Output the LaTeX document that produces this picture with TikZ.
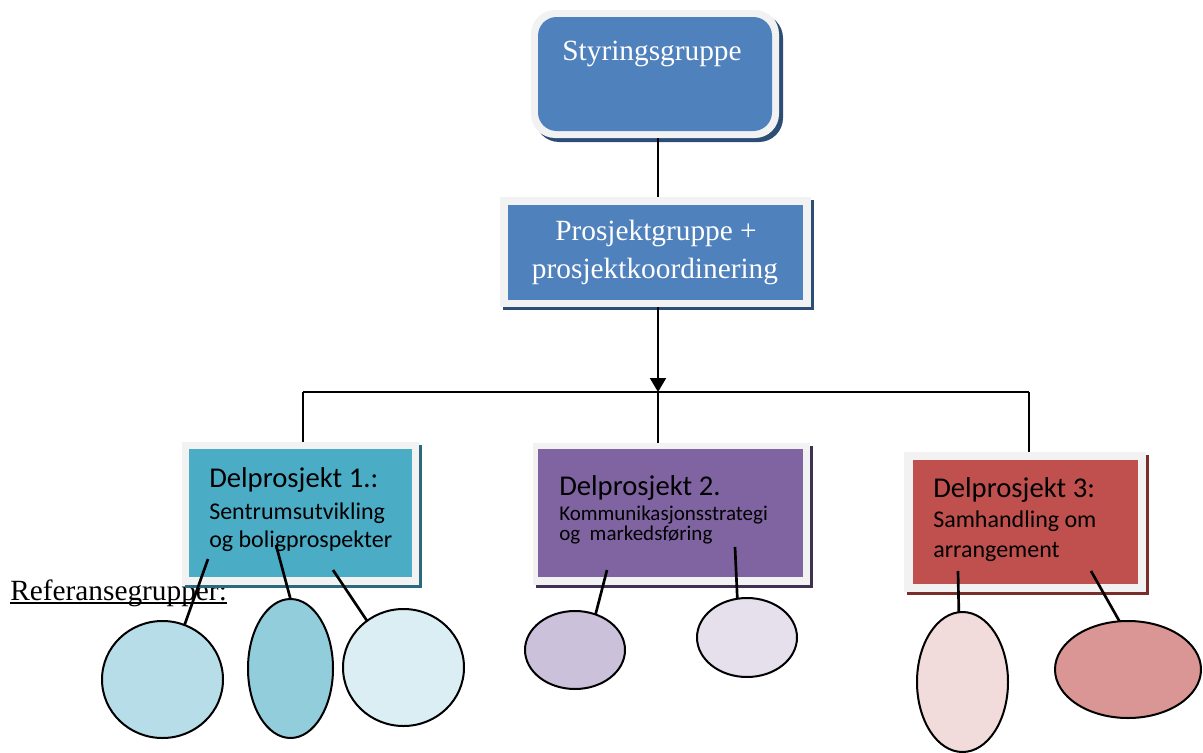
\documentclass[tikz,border=0pt]{standalone}
\usepackage{fontspec}
\setmainfont{Liberation Serif}
\newfontfamily\calib{Carlito}
\usetikzlibrary{shapes.geometric,shadows,arrows.meta}
\definecolor{blueM}{HTML}{4F81BD}
\definecolor{blueD}{HTML}{2C4D75}
\definecolor{tealM}{HTML}{4BACC6}
\definecolor{tealD}{HTML}{2B6A7C}
\definecolor{purM}{HTML}{8064A2}
\definecolor{purD}{HTML}{3F3151}
\definecolor{redM}{HTML}{C0504D}
\definecolor{redD}{HTML}{7A2E2C}
\definecolor{frameG}{HTML}{F2F2F2}
\definecolor{ovA}{HTML}{B7DDE8}
\definecolor{ovB}{HTML}{92CDDC}
\definecolor{ovC}{HTML}{DAEEF3}
\definecolor{ovD}{HTML}{CCC1DA}
\definecolor{ovE}{HTML}{E5E0EC}
\definecolor{ovF}{HTML}{F2DCDB}
\definecolor{ovG}{HTML}{D99694}
\begin{document}
\begin{tikzpicture}[x=0.75pt,y=-0.75pt,
  framebox/.style={draw=none, fill=frameG, inner sep=0pt, outer sep=0pt},
  innerbox/.style={draw=none, inner sep=0pt, outer sep=0pt},
  shad/.style={drop shadow={shadow xshift=#1, shadow yshift=-#1, fill=shc, opacity=1}},
  conn/.style={line width=1.5pt, black},
  refline/.style={line width=2pt, black},
  oval/.style={ellipse, draw=black, line width=1.5pt, inner sep=0pt, outer sep=0pt},
  serifw/.style={anchor=base, inner sep=0pt, text=white, font=\fontsize{22}{26}\selectfont},
  hdr/.style={anchor=base west, inner sep=0pt, font=\calib\fontsize{21.5}{26}\selectfont},
  sub/.style={anchor=base west, inner sep=0pt, font=\calib\fontsize{18}{22}\selectfont},
  subs/.style={anchor=base west, inner sep=0pt, font=\calib\fontsize{15.75}{19}\selectfont}]
\useasboundingbox (0,0) rectangle (1203,753);

% reference label (behind box 1)
\node[anchor=base west, inner sep=0pt, font=\fontsize{22}{26}\selectfont] (ref) at (10,600) {Referansegrupper:};
\draw[line width=1.1pt] ([yshift=-2.4pt]ref.base west) -- ([yshift=-2.4pt]ref.base east);

% Styringsgruppe
\colorlet{shc}{blueD}
\node[framebox, rounded corners=18pt, minimum width=186pt, minimum height=96pt, shad=3pt] (styF) at (655,74) {};
\node[innerbox, fill=blueM, rounded corners=14pt, minimum width=175.5pt, minimum height=85.5pt] (sty) at (655,74) {};
\node[serifw] (styT) at (652,60) {Styringsgruppe};

% Prosjektgruppe
\node[framebox, minimum width=233.25pt, minimum height=82.5pt, shad=2.25pt] (proF) at (655.5,252) {};
\node[innerbox, fill=blueM, minimum width=221.25pt, minimum height=71.25pt] (pro) at (655.5,252.5) {};
\node[serifw] (proT1) at (656,240) {Prosjektgruppe +};
\node[serifw] (proT2) at (655,278) {prosjektkoordinering};

% Delprosjekt 1
\colorlet{shc}{tealD}
\node[framebox, minimum width=177.75pt, minimum height=107.25pt, shad=2.5pt] (d1F) at (300.5,513.5) {};
\node[innerbox, fill=tealM, minimum width=167.25pt, minimum height=96pt] (d1) at (300.5,513) {};
\node[hdr] (d1T1) at (209,487) {Delprosjekt 1.:};
\node[sub] (d1T2) at (209,519) {Sentrumsutvikling};
\node[sub] (d1T3) at (209,547) {og boligprospekter};

% Delprosjekt 2
\colorlet{shc}{purD}
\node[framebox, minimum width=207.75pt, minimum height=106.5pt, shad=2.25pt] (d2F) at (671.5,514) {};
\node[innerbox, fill=purM, minimum width=198.75pt, minimum height=96pt] (d2) at (670.5,513) {};
\node[hdr] (d2T1) at (559,495) {Delprosjekt 2.};
\node[subs] (d2T2) at (559,520) {Kommunikasjonsstrategi};
\node[subs] (d2T3) at (559,540) {og~~markedsføring};

% Delprosjekt 3
\colorlet{shc}{redD}
\node[framebox, minimum width=181.5pt, minimum height=105pt, shad=2.5pt] (d3F) at (1025,522) {};
\node[innerbox, fill=redM, minimum width=168.75pt, minimum height=93pt] (d3) at (1025.5,522) {};
\node[hdr] (d3T1) at (933,497) {Delprosjekt 3:};
\node[sub] (d3T2) at (933,527) {Samhandling om};
\node[sub] (d3T3) at (933,557) {arrangement};

% hierarchy connectors
\coordinate (jc) at (658,392);
\coordinate (jl) at (303,392);
\coordinate (jr) at (1029,392);
\draw[conn] (styF.south -| jc) -- (proF.north -| jc);
\draw[conn, -{Triangle[width=12pt,length=10.5pt]}] (proF.south -| jc) -- (jc);
\draw[conn] (jl) -- (jr);
\draw[conn] (jl) -- (jl |- d1F.north);
\draw[conn] (jc) -- (jc |- d2F.north);
\draw[conn] (jr) -- (jr |- d3F.north);

% reference group ovals
\node[oval, fill=ovA, minimum width=90.75pt, minimum height=87.75pt] (eA) at (162.5,679.5) {};
\node[oval, fill=ovB, minimum width=63.75pt, minimum height=104.25pt] (eB) at (290.5,668.5) {};
\node[oval, fill=ovC, minimum width=90.75pt, minimum height=87.75pt] (eC) at (403.5,667.5) {};
\node[oval, fill=ovD, minimum width=75pt, minimum height=58.5pt] (eD) at (575,650) {};
\node[oval, fill=ovE, minimum width=75pt, minimum height=59.25pt] (eE) at (747,637.5) {};
\node[oval, fill=ovF, minimum width=68.25pt, minimum height=105pt] (eF) at (962.5,682) {};
\node[oval, fill=ovG, minimum width=109.5pt, minimum height=72.75pt] (eG) at (1128,669.5) {};

% free ends inside the boxes
\coordinate (a1) at (208,559);
\coordinate (a2) at (276,545);
\coordinate (a3) at (333,570);
\coordinate (b1) at (607,570);
\coordinate (b2) at (735,547);
\coordinate (c1) at (958,571);
\coordinate (c2) at (1091,571);
\draw[refline] (a1) -- (eA.68);
\draw[refline] (a2) -- (eB.north);
\draw[refline] (a3) -- (eC.128);
\draw[refline] (b1) -- (eD.60);
\draw[refline] (b2) -- (eE.104);
\draw[refline] (c1) -- (eF.93);
\draw[refline] (c2) -- (eG.100);
\end{tikzpicture}
\end{document}
